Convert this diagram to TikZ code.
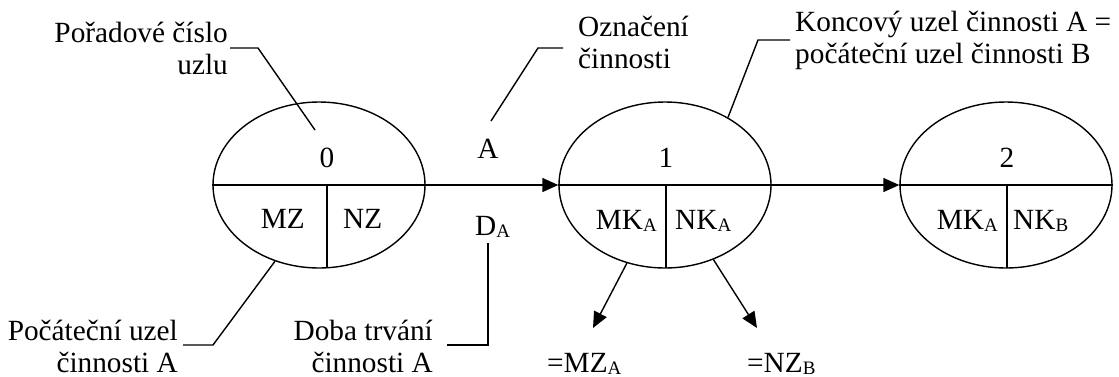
\documentclass[tikz,border=0pt]{standalone}
\usepackage{fontspec}
\setmainfont{Liberation Serif}
\usetikzlibrary{arrows.meta,shapes.geometric}

% small lowered index, as in MK_A
\newcommand{\lowidx}[1]{\raisebox{-2.5pt}{\fontsize{19}{19}\selectfont #1}}

\begin{document}
\begin{tikzpicture}[x=1pt,y=-1pt,
  every node/.style={inner sep=0pt,font=\fontsize{29.3}{32}\selectfont},
  event/.style={draw,ellipse,line width=1.4pt,minimum width=212pt,minimum height=166pt},
  line/.style={line width=1.4pt},
  flow/.style={line width=1.4pt,-{Triangle[length=16pt,width=14pt]}},
  leader/.style={line width=1.4pt}]
\useasboundingbox (0,0) rectangle (1119,376);

% event nodes
\node[event] (e0) at (319,185) {};
\node[event] (e1) at (665,185) {};
\node[event] (e2) at (1006,185) {};

% inner dividers
\draw[line] (e0.west) -- (e0.east);
\draw[line] (e1.west) -- (e1.east);
\draw[line] (e2.west) -- (e2.east);
\draw[line] (327,185) -- (327,268);
\draw[line] (666,185) -- (666,268);
\draw[line] (1007,185) -- (1007,268);

% node numbers and times
\node[anchor=base] (n0) at (327,167) {0};
\node[anchor=base] (n1) at (666,167) {1};
\node[anchor=base] (n2) at (1007,167) {2};
\node[anchor=base east] (mz) at (305,228) {MZ};
\node[anchor=base west] (nz) at (343,228) {NZ};
\node[anchor=base east] (mk1) at (657,229) {MK\lowidx{A}};
\node[anchor=base west] (nk1) at (675,229) {NK\lowidx{A}};
\node[anchor=base east] (mk2) at (998,229) {MK\lowidx{A}};
\node[anchor=base west] (nk2) at (1013,229) {NK\lowidx{B}};

% activities
\draw[flow] (e0.east) -- (e1.west);
\draw[flow] (e1.east) -- (e2.west);
\node[anchor=base] (act) at (488,158) {A};
\node[anchor=base west] (dur) at (475,235) {D\lowidx{A}};

% derived times
\coordinate (t1) at (593,328);
\coordinate (t2) at (757,328);
\draw[flow] (e1.-116) -- (t1);
\draw[flow] (e1.-57) -- (t2);
\node[anchor=base west] (mza) at (547,372) {=MZ\lowidx{A}};
\node[anchor=base west] (nzb) at (747,372) {=NZ\lowidx{B}};

% callouts (anchored at the baseline of their last line)
\node[anchor=base east,align=right] (cNum) at (228,74) {Pořadové číslo\\uzlu};
\node[anchor=base east,align=right] (cStart) at (178,372) {Počáteční uzel\\činnosti A};
\node[anchor=base east,align=right] (cDur) at (433,372) {Doba trvání\\činnosti A};
\node[anchor=base west,align=left] (cAct) at (578,68) {Označení\\činnosti};
\node[anchor=base west,align=left] (cEnd) at (795,63.5) {Koncový uzel činnosti A =\\počáteční uzel činnosti B};

\coordinate (pNum) at (315,130);
\coordinate (pDur) at (488,243);
\coordinate (pAct) at (491,121);

\draw[leader] (cNum.base east) ++(2,-26) -- (258,48) -- (pNum);
\draw[leader] (cStart.base east) ++(5,-27) -- (213,345) -- (e0.-120);
\draw[leader] (cDur.base east) ++(14,-27) -- (488,345) -- (pDur);
\draw[leader] (cAct.base west) ++(-15,-20) -- (538,48) -- (pAct);
\draw[leader] (cEnd.base west) ++(-5,-23.5) -- (758,40) -- (e1.47);
\end{tikzpicture}
\end{document}
